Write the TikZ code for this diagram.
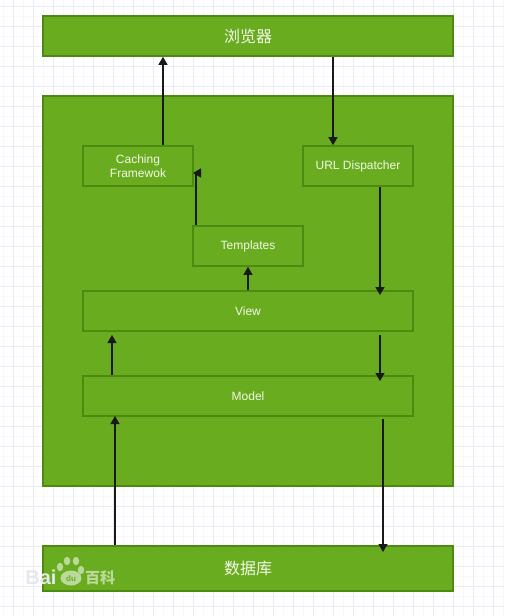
\documentclass[tikz,border=0pt]{standalone}
\usepackage{fontspec}
\setmainfont{Liberation Sans}
\newfontfamily\cjk{Noto Sans CJK SC}
\usetikzlibrary{arrows.meta}
\definecolor{boxfill}{HTML}{6AAC20}
\definecolor{boxline}{HTML}{4D8A10}
\definecolor{gridmin}{HTML}{F8F8FC}
\definecolor{gridmaj}{HTML}{E8EAF6}
\definecolor{txt}{HTML}{F1F9E6}
\definecolor{markgrey}{HTML}{E6E8EC}
\tikzset{
  box/.style={draw=boxline,fill=boxfill,line width=1.6pt,inner sep=0pt,text=txt,align=center,font=\fontsize{12}{14}\selectfont},
  wide/.style={box,font=\cjk\fontsize{16}{18}\selectfont},
  arr/.style={draw=black!90,line width=1.2pt,-{Triangle[length=8pt,width=9pt]}}
}
\begin{document}
\begin{tikzpicture}[x=1pt,y=-1pt]
\useasboundingbox (0,0) rectangle (504,616);
\fill[white] (0,0) rectangle (504,616);
\foreach \v in {3,13,...,503} \draw[gridmin,line width=.5pt] (\v,0) -- (\v,616);
\foreach \v in {6,16,...,616} \draw[gridmin,line width=.5pt] (0,\v) -- (504,\v);
\foreach \v in {13,33,...,503} \draw[gridmaj,line width=.5pt] (\v,0) -- (\v,616);
\foreach \v in {6,26,...,616} \draw[gridmaj,line width=.5pt] (0,\v) -- (504,\v);

\node[wide,minimum width=410pt,minimum height=40pt] (browser) at (248,36) {浏览器};
\node[box,minimum width=410pt,minimum height=390pt] (server) at (248,291) {};
\node[box,minimum width=110pt,minimum height=40pt] (cache) at (138,166) {Caching\\Framewok};
\node[box,minimum width=110pt,minimum height=40pt] (url) at (358,166) {\rule{0pt}{0pt}URL Dispatcher};
\node[box,minimum width=110pt,minimum height=40pt] (tpl) at (248,246) {Templates};
\node[box,minimum width=330pt,minimum height=40pt] (view) at (248,311) {View};
\node[box,minimum width=330pt,minimum height=40pt] (model) at (248,396) {Model};
\node[wide,minimum width=410pt,minimum height=45pt] (db) at (248,568.5) {数据库};

\coordinate (cacheIn) at (193,173);
\coordinate (tplBend) at (196,173);
\coordinate (urlEnd) at (380,295);
\coordinate (viewOut) at (380,335);
\coordinate (modelIn) at (380,381);
\coordinate (modelUp) at (112,335);
\coordinate (dbUp) at (115,416);
\coordinate (modelOut) at (383,419);
\coordinate (dbIn) at (383,552);

\draw[arr] (163,0 |- cache.north) -- (163,0 |- browser.south);
\draw[arr] (333,0 |- browser.south) -- (333,0 |- url.north);
\draw[draw=black!90,line width=1.2pt] (196,0 |- tpl.north) -- (tplBend);
\draw[arr] (tplBend) -- (cacheIn);
\draw[arr] (380,0 |- url.south) -- (urlEnd);
\draw[arr] (248,0 |- view.north) -- (248,0 |- tpl.south);
\draw[arr] (viewOut) -- (modelIn);
\draw[arr] (112,0 |- model.north) -- (modelUp);
\draw[arr] (115,0 |- db.north) -- (dbUp);
\draw[arr] (modelOut) -- (dbIn);

% watermark
\node[inner sep=0pt,text=markgrey,font=\bfseries\fontsize{20}{20}\selectfont] (bai) at (41,577) {Bai};
\begin{scope}[white,opacity=.55]
\fill (67,561) ellipse (3.2pt and 4.2pt);
\fill (76,561) ellipse (3.2pt and 4.2pt);
\fill (60,567) ellipse (3.2pt and 4.2pt);
\fill (81,570) ellipse (3.2pt and 4.2pt);
\fill (71,578) ellipse (10.5pt and 7.5pt);
\node[inner sep=0pt,font=\cjk\bfseries\fontsize{15}{15}\selectfont] (bk) at (100,578) {百科};
\end{scope}
\node[inner sep=0pt,text=boxfill,font=\bfseries\fontsize{8}{8}\selectfont] (du) at (71,579) {du};
\end{tikzpicture}
\end{document}
